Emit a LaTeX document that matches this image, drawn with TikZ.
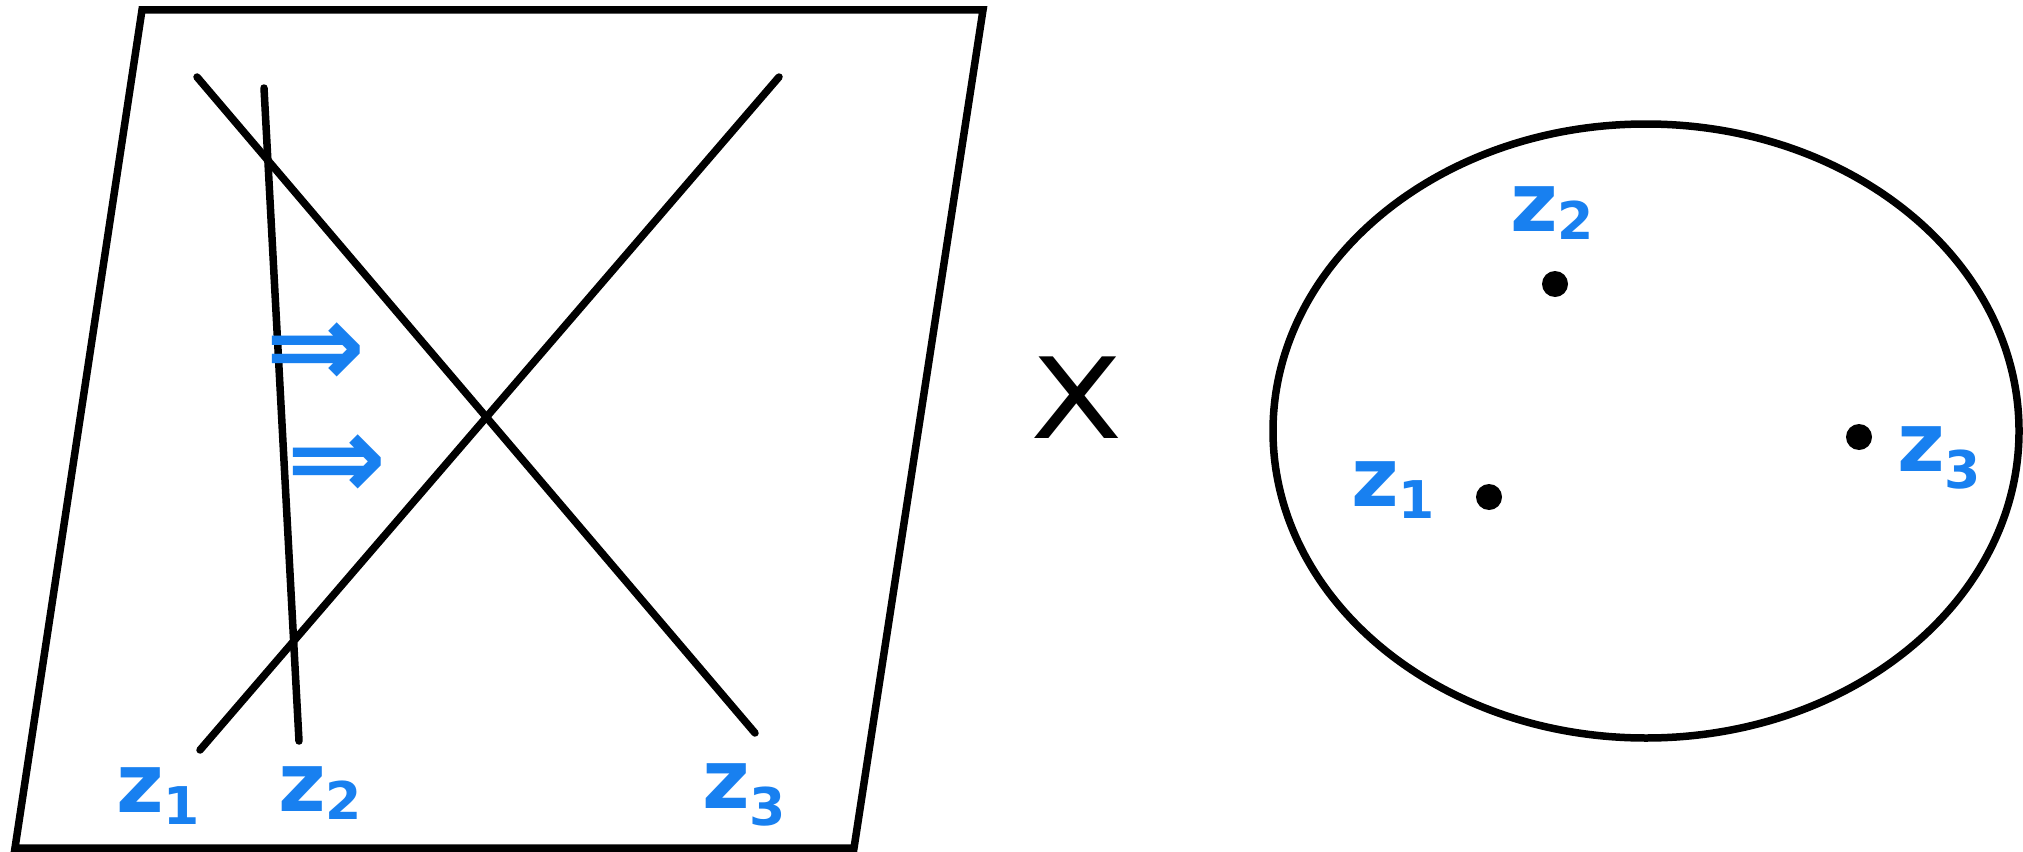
\documentclass[tikz,border=0pt]{standalone}
\usepackage{fontspec}
\setmainfont{DejaVu Sans}
\begin{document}
\begin{tikzpicture}[x=1pt,y=-1pt,
  blk/.style={line width=7.5pt,black,line cap=round,line join=miter},
  lab/.style={text=zblue,inner sep=0pt,font=\bfseries\fontsize{82}{82}\selectfont},
  arr/.style={text=zblue,inner sep=0pt,font=\bfseries\fontsize{120}{120}\selectfont},
  dotp/.style={circle,fill=black,minimum size=26pt,inner sep=0pt}]
\definecolor{zblue}{RGB}{24,128,240}
\useasboundingbox (0,0) rectangle (2023,851);
% parallelogram
\draw[blk] (142,10) -- (983,10) -- (854,848) -- (15,848) -- cycle;
% lines
\coordinate (a1) at (197,77); \coordinate (a2) at (755,733);
\coordinate (b1) at (779,77); \coordinate (b2) at (200,750);
\coordinate (c1) at (264,88); \coordinate (c2) at (299,741);
\draw[blk] (a1) -- (a2);
\draw[blk] (b1) -- (b2);
\draw[blk] (c1) -- (c2);
% labels left
\node[lab] (lz1) at (158,796) {z\raisebox{-0.15em}{\fontsize{52}{52}\selectfont 1}};
\node[lab] (lz2) at (320,793) {z\raisebox{-0.1em}{\fontsize{52}{52}\selectfont 2}};
\node[lab] (lz3) at (744,795) {z\raisebox{-0.2em}{\fontsize{52}{52}\selectfont 3}};
\node[arr] (ar1) at (316,355) {⇒};
\node[arr] (ar2) at (337,467) {⇒};
% times
\node[inner sep=0pt,font=\fontsize{100}{100}\selectfont,xscale=1.35,yscale=1.12] (x) at (1077,398) {X};
% ellipse
\draw[blk] (1646,431) ellipse [x radius=373, y radius=307];
\node[dotp] (d2) at (1555,284) {};
\node[dotp] (d1) at (1489,497) {};
\node[dotp] (d3) at (1859,437) {};
\node[lab] (rz2) at (1552,213) {z\raisebox{-0.1em}{\fontsize{52}{52}\selectfont 2}};
\node[lab] (rz1) at (1393,490) {z\raisebox{-0.15em}{\fontsize{52}{52}\selectfont 1}};
\node[lab] (rz3) at (1939,458) {z\raisebox{-0.2em}{\fontsize{52}{52}\selectfont 3}};
\end{tikzpicture}
\end{document}
